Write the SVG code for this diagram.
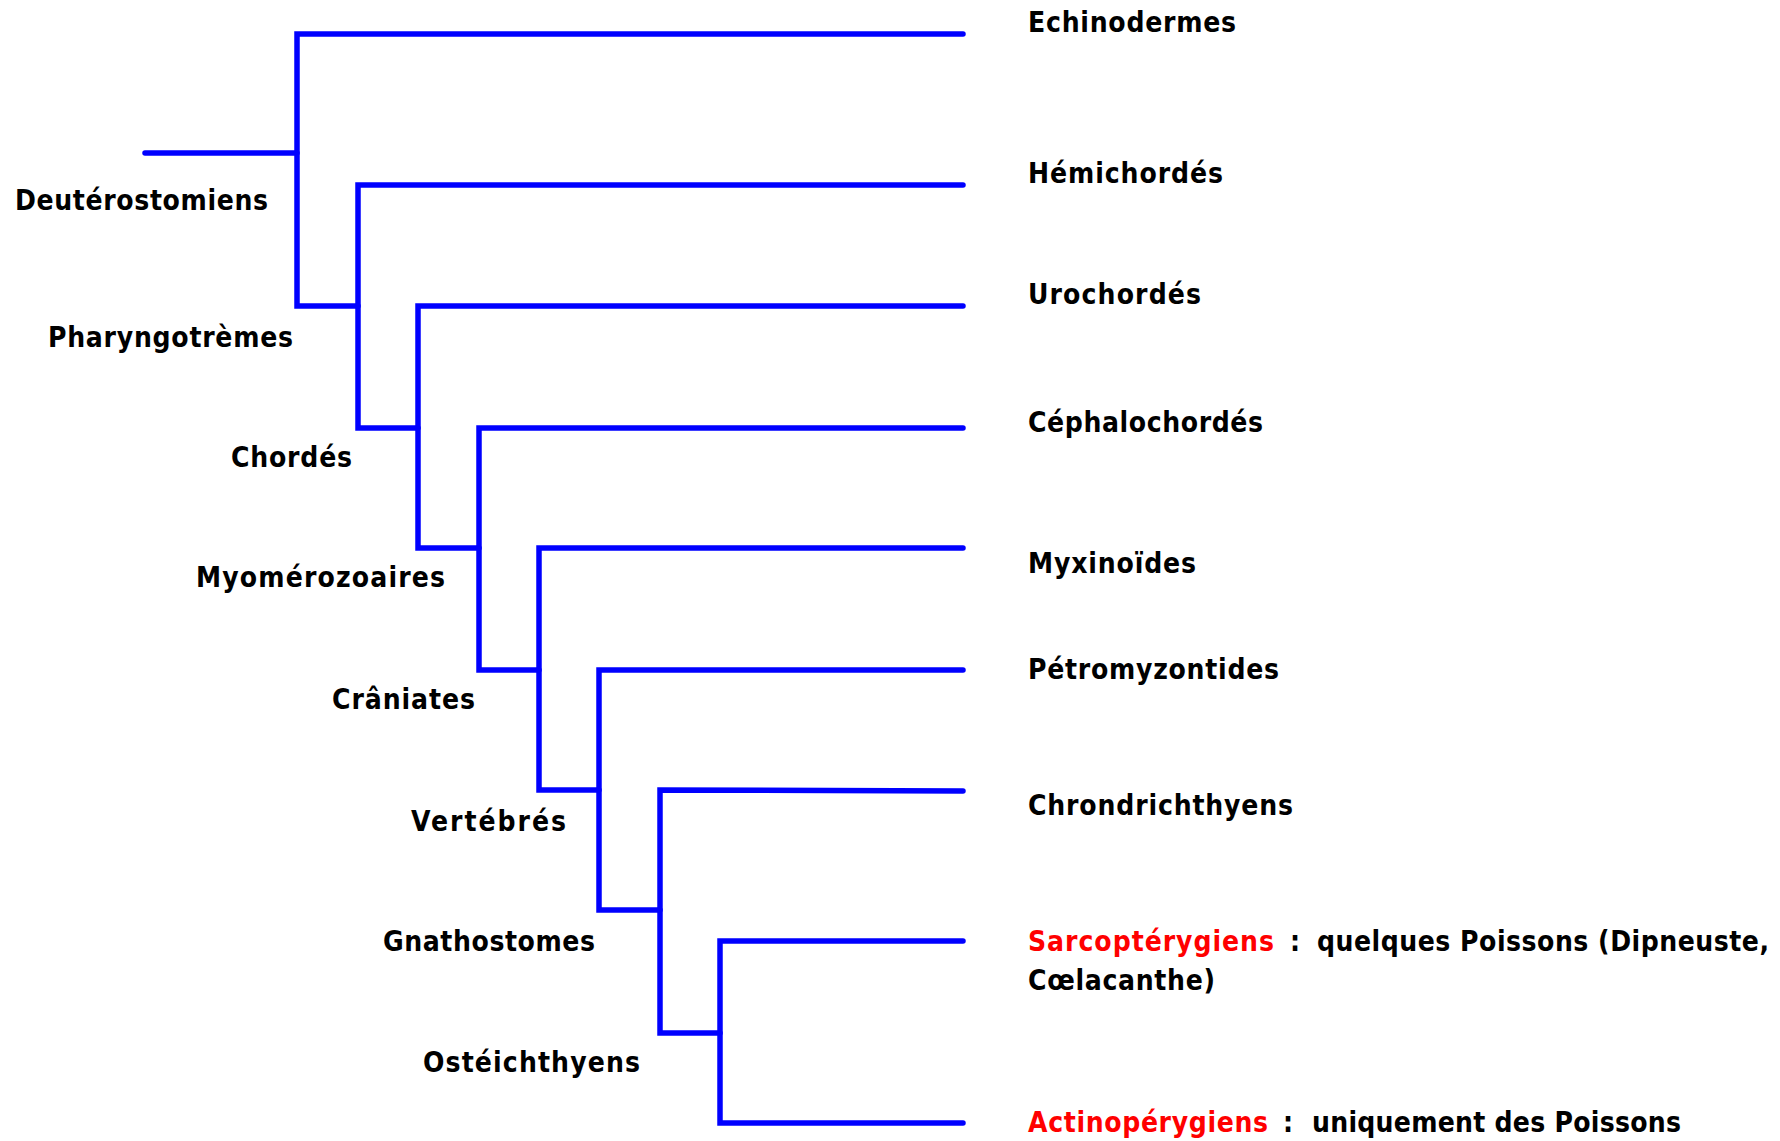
<svg xmlns="http://www.w3.org/2000/svg" width="1780" height="1141" viewBox="0 0 1780 1141">
<style>
.br{fill:none;stroke:#0000ff;stroke-width:5.5;stroke-linecap:round;stroke-linejoin:miter}
text{font-family:"DejaVu Sans Condensed","DejaVu Sans","Liberation Sans",sans-serif;font-weight:bold;font-size:28px;fill:#000}
.red{fill:#ff0000}
</style>
<rect width="1780" height="1141" fill="#fff"/>
<g id="connectors">
<path class="br" d="M145,153 H297"/>
<path class="br" d="M963,34 H297 V306 H358"/>
<path class="br" d="M963,185 H358 V428 H418"/>
<path class="br" d="M963,306 H418 V548 H479"/>
<path class="br" d="M963,428 H479 V670 H539"/>
<path class="br" d="M963,548 H539 V790 H599"/>
<path class="br" d="M963,670 H599 V910 H660"/>
<path class="br" d="M963,791 L660,790 V1033 H720"/>
<path class="br" d="M963,941 H720 V1123 H963"/>
</g>
<g id="clade-deuterostomiens"><text x="15" y="210" textLength="253">Deutérostomiens</text></g>
<g id="clade-pharyngotremes"><text x="48" y="347" textLength="245">Pharyngotrèmes</text></g>
<g id="clade-chordes"><text x="231" y="467" textLength="121">Chordés</text></g>
<g id="clade-myomerozoaires"><text x="196" y="587" textLength="249">Myomérozoaires</text></g>
<g id="clade-craniates"><text x="332" y="709" textLength="143">Crâniates</text></g>
<g id="clade-vertebres"><text x="411" y="831" textLength="155">Vertébrés</text></g>
<g id="clade-gnathostomes"><text x="383" y="951" textLength="212">Gnathostomes</text></g>
<g id="clade-osteichthyens"><text x="423" y="1072" textLength="217">Ostéichthyens</text></g>
<g id="taxon-echinodermes"><text x="1028" y="32" textLength="208">Echinodermes</text></g>
<g id="taxon-hemichordes"><text x="1028" y="183" textLength="195">Hémichordés</text></g>
<g id="taxon-urochordes"><text x="1028" y="304" textLength="173">Urochordés</text></g>
<g id="taxon-cephalochordes"><text x="1028" y="432" textLength="235">Céphalochordés</text></g>
<g id="taxon-myxinoides"><text x="1028" y="573" textLength="168">Myxinoïdes</text></g>
<g id="taxon-petromyzontides"><text x="1028" y="679" textLength="251">Pétromyzontides</text></g>
<g id="taxon-chondrichthyens"><text x="1028" y="815" textLength="265">Chrondrichthyens</text></g>
<g id="taxon-sarcopterygiens">
<text x="1028" y="951" textLength="246" class="red">Sarcoptérygiens</text>
<text x="1290" y="951">:</text>
<text x="1317" y="951" textLength="452">quelques Poissons (Dipneuste,</text>
<text x="1028" y="990" textLength="187">Cœlacanthe)</text>
</g>
<g id="taxon-actinopterygiens">
<text x="1028" y="1132" textLength="240" class="red">Actinopérygiens</text>
<text x="1283" y="1132">:</text>
<text x="1312" y="1132" textLength="369">uniquement des Poissons</text>
</g>
</svg>
